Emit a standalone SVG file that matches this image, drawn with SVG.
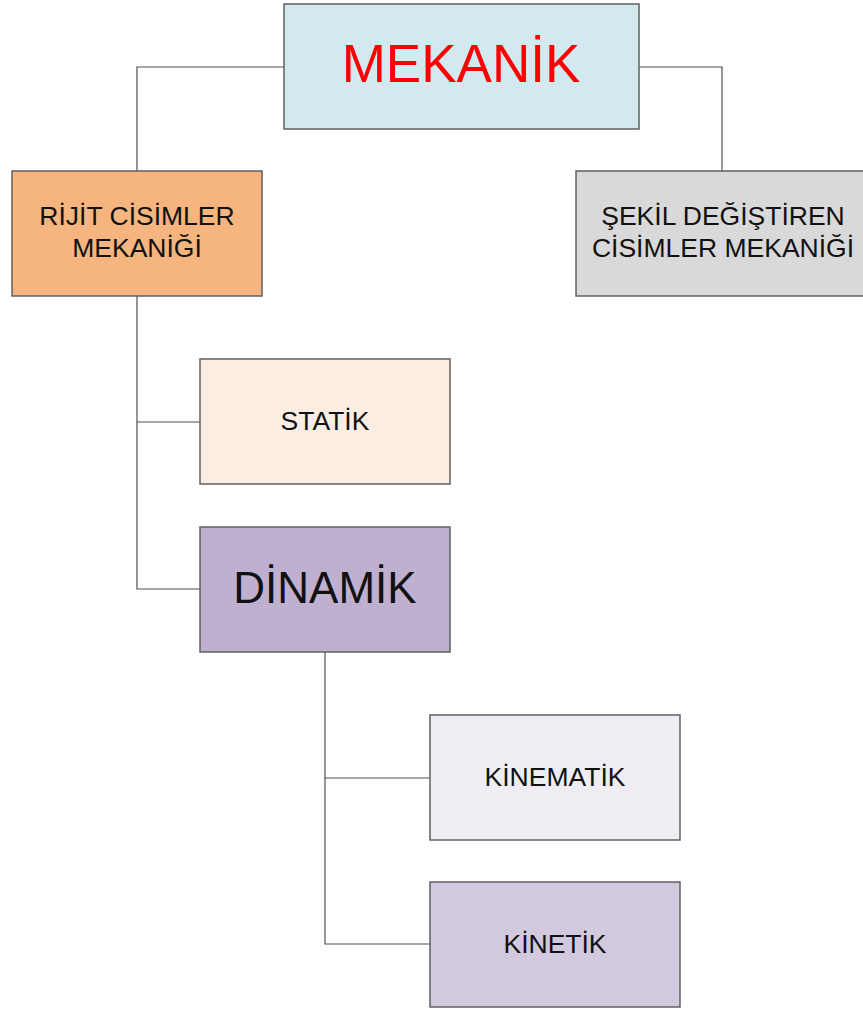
<svg xmlns="http://www.w3.org/2000/svg" width="863" height="1009" viewBox="0 0 863 1009">
<style>
.box{stroke:#606060;stroke-width:1.5}
.t{font-family:"Liberation Sans",Arial,sans-serif;fill:#111;text-anchor:middle}
.s{font-size:26.5px}
.c{fill:none;stroke:#505050;stroke-width:1.2}
</style>
<rect width="863" height="1009" fill="#fff"/>
<g id="connectors">
<polyline class="c" points="284,67 137,67 137,171"/>
<polyline class="c" points="639,67 722,67 722,171"/>
<polyline class="c" points="137,296 137,589 200,589"/>
<line class="c" x1="137" y1="422" x2="200" y2="422"/>
<polyline class="c" points="325,652 325,944 430,944"/>
<line class="c" x1="325" y1="778" x2="430" y2="778"/>
</g>
<g id="mekanik">
<rect class="box" x="284" y="4" width="355" height="125" fill="#d2e9ef"/>
<text class="t" x="461" y="82" font-size="53" style="fill:#ff0000">MEKANİK</text>
</g>
<g id="rijit">
<rect class="box" x="12" y="171" width="250" height="125" fill="#f6b47e"/>
<text class="t s" x="137" y="225">RİJİT CİSİMLER</text>
<text class="t s" x="137" y="257">MEKANİĞİ</text>
</g>
<g id="sekil">
<rect class="box" x="576" y="171" width="300" height="125" fill="#d9d9d9"/>
<text class="t s" x="723" y="225">ŞEKİL DEĞİŞTİREN</text>
<text class="t s" x="723" y="257">CİSİMLER MEKANİĞİ</text>
</g>
<g id="statik">
<rect class="box" x="200" y="359" width="250" height="125" fill="#fcede3"/>
<text class="t s" x="325" y="430">STATİK</text>
</g>
<g id="dinamik">
<rect class="box" x="200" y="527" width="250" height="125" fill="#bfb0d0"/>
<text class="t" x="325" y="603" font-size="44">DİNAMİK</text>
</g>
<g id="kinematik">
<rect class="box" x="430" y="715" width="250" height="125" fill="#efedf3"/>
<text class="t s" x="555" y="786">KİNEMATİK</text>
</g>
<g id="kinetik">
<rect class="box" x="430" y="882" width="250" height="125" fill="#d3c9df"/>
<text class="t s" x="555" y="953">KİNETİK</text>
</g>
</svg>
